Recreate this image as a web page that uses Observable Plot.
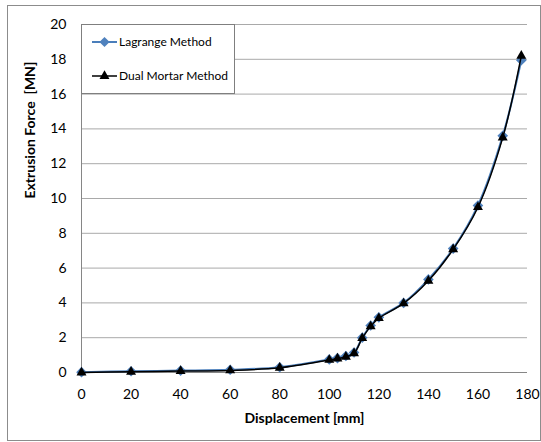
<!DOCTYPE html>
<html><head><meta charset="utf-8">
<script src="https://cdn.jsdelivr.net/npm/d3@7"></script>
<script src="https://cdn.jsdelivr.net/npm/@observablehq/plot@0.6"></script>
<style>
body{margin:0;background:#fff;font-family:Lato,"Open Sans",sans-serif;}
#wrap{position:relative;width:541px;height:442px;}
#border{position:absolute;left:7px;top:5px;width:532px;height:434px;border:1px solid #8c8c8c;pointer-events:none;}
#legend{position:absolute;left:81px;top:24px;width:152px;height:68px;border:1px solid #7f7f7f;background:#fff;}
#chart{position:absolute;left:0;top:0;}
</style></head>
<body>
<div id="wrap"><div id="chart"></div><div id="border"></div><div id="legend"></div></div>
<script>
const displacement = [0,20,40,60,80,100,103.3,106.7,110,113.3,116.7,120,130,140,150,160,170,177.5];
const lagrange = [0.02,0.07,0.11,0.16,0.3,0.75,0.83,0.95,1.15,2.0,2.7,3.17,4.0,5.35,7.12,9.6,13.6,17.95];
const dualMortar = [0.0,0.04,0.08,0.12,0.27,0.72,0.8,0.9,1.1,1.97,2.65,3.12,3.97,5.27,7.08,9.5,13.5,18.2];
const seriesNames = ["Lagrange Method","Dual Mortar Method"];
const xTicks = [0,20,40,60,80,100,120,140,160,180];
const yTicks = [0,2,4,6,8,10,12,14,16,18,20];
const xTitle = "Displacement [mm]";
const yTitle = "Extrusion Force\u00a0 [MN]";

const blue = "#4f81bd", blueLine = "#4a7ebb";
const data = displacement.map((d,i)=>({x:d, a:lagrange[i], b:dualMortar[i]}));

const chart = Plot.plot({
  width:541, height:442,
  marginLeft:81, marginRight:14, marginTop:24, marginBottom:70,
  style:{fontFamily:"Lato, 'Open Sans', sans-serif", fontSize:"14px", color:"#000", background:"transparent"},
  x:{domain:[0,180]},
  y:{domain:[0,20]},
  marks:[
    Plot.gridY(yTicks,{stroke:"#a9a9a9", strokeOpacity:1}),
    Plot.axisX(xTicks,{tickSize:0, tickPadding:17, label:null, fontSize:14}),
    Plot.axisY(yTicks,{tickSize:0, tickPadding:15, label:null, fontSize:14}),
    Plot.ruleY([0],{stroke:"#868686"}),
    Plot.ruleX([0],{stroke:"#868686"}),
    Plot.line(data,{x:"x", y:"a", curve:"catmull-rom", stroke:blueLine, strokeWidth:2}),
    Plot.dot(data,{x:"x", y:"a", symbol:"diamond2", r:4.8, fill:blue}),
    Plot.line(data,{x:"x", y:"b", curve:"catmull-rom", stroke:"#000", strokeWidth:1.5}),
    Plot.dot(data,{x:"x", y:"b", symbol:"triangle", r:3.7, fill:"#000"}),
    Plot.text([xTitle],{frameAnchor:"bottom", dy:50, fontWeight:"bold", fontSize:14}),
    Plot.text([yTitle],{frameAnchor:"left", dx:-51, rotate:-90, fontWeight:"bold", fontSize:14})
  ]
});
document.getElementById("chart").appendChild(chart);

// legend
const lg = d3.select("#legend").append("svg").attr("width",152).attr("height",68)
  .style("font-family","Lato, 'Open Sans', sans-serif").style("font-size","12px");
const rows = [
  {name:seriesNames[0], stroke:blueLine, fill:blue, sym:d3.symbolDiamond2, size:Math.PI*4.6*4.6, y:17},
  {name:seriesNames[1], stroke:"#000", fill:"#000", sym:d3.symbolTriangle, size:Math.PI*3.7*3.7, y:51}
];
rows.forEach(r=>{
  lg.append("line").attr("x1",10).attr("x2",35).attr("y1",r.y).attr("y2",r.y).attr("stroke",r.stroke).attr("stroke-width",r.stroke==="#000"?1.5:2);
  lg.append("path").attr("d",d3.symbol(r.sym,r.size)()).attr("transform",`translate(22.5,${r.y})`).attr("fill",r.fill);
  lg.append("text").attr("x",37).attr("y",r.y).attr("dy","0.35em").text(r.name);
});
</script>
</body></html>
